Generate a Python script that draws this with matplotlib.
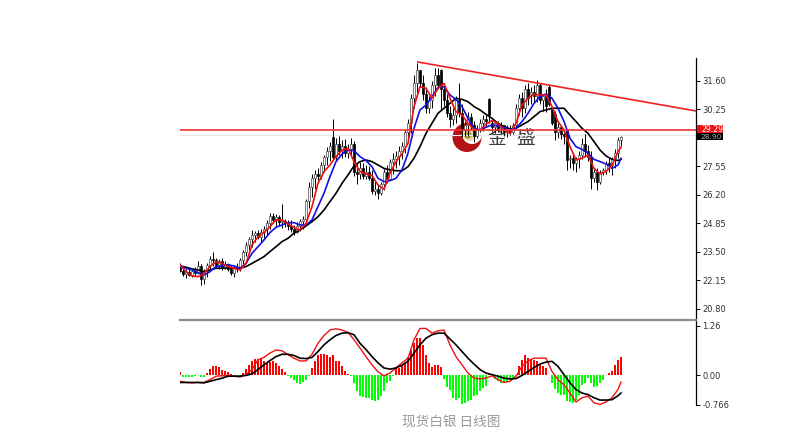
import matplotlib
matplotlib.use("Agg")
import matplotlib.pyplot as plt
from matplotlib.patches import Circle, Rectangle
import numpy as np

plt.rcParams['font.family'] = ['DejaVu Sans', 'Noto Sans CJK SC']

# bougies journalieres
opens = [22.85, 22.6, 22.45, 22.55, 22.4, 22.6, 22.5, 22.85, 22.2, 22.6, 22.9, 23.15,
         23.1, 22.9, 23.05, 22.8, 22.95, 22.7, 22.5, 22.75, 22.7, 23.1, 23.5, 23.85,
         24.1, 24.3, 24.4, 24.2, 24.45, 24.6, 24.85, 25.2, 25.0, 25.15, 24.9, 24.95,
         24.85, 24.75, 24.6, 24.45, 24.75, 24.95, 25.05, 25.9, 26.6, 27.0, 27.2, 27.1,
         27.6, 28.0, 28.3, 28.95, 28.0, 28.6, 28.3, 28.5, 28.2, 28.4, 28.6, 27.3,
         27.2, 27.5, 27.1, 27.3, 27.0, 26.4, 26.5, 26.3, 26.7, 27.3, 26.95, 27.75,
         27.9, 28.05, 28.3, 28.5, 29.2, 29.6, 30.8, 31.5, 32.1, 31.5, 31.0, 30.3,
         30.7, 31.4, 31.9, 32.1, 31.2, 30.7, 30.1, 29.8, 30.0, 30.7, 30.1, 29.3,
         29.5, 29.9, 29.5, 29.0, 29.3, 29.6, 29.8, 30.75, 29.6, 29.4, 29.6, 29.35,
         29.5, 29.2, 29.35, 29.2, 29.5, 30.3, 30.8, 30.3, 31.2, 31.0, 31.1, 30.9,
         31.4, 30.7, 30.9, 31.3, 30.3, 30.05, 29.2, 29.4, 29.1, 29.28, 27.9, 27.95,
         27.7, 27.9, 28.1, 28.6, 28.3, 28.0, 27.0, 27.3, 26.8, 27.3, 27.4, 27.7,
         27.6, 27.9, 28.2, 28.8]
highs = [22.96, 22.75, 22.7, 22.8, 22.7, 22.8, 23.09, 22.95, 22.7, 23.0, 23.3, 23.5,
         23.2, 23.15, 23.2, 23.05, 22.96, 22.9, 22.85, 22.96, 23.2, 23.6, 23.95, 24.23,
         24.54, 24.5, 24.54, 24.6, 24.75, 25.0, 25.33, 25.33, 25.3, 25.25, 25.78, 25.05,
         25.0, 25.02, 24.8, 24.9, 25.05, 25.2, 26.0, 26.83, 27.2, 27.4, 27.46, 27.75,
         28.1, 28.46, 28.7, 29.79, 28.9, 29.0, 28.8, 28.85, 28.6, 28.9, 28.75, 27.75,
         27.78, 27.7, 27.6, 27.55, 27.38, 26.9, 26.7, 26.8, 27.45, 27.6, 27.9, 28.18,
         28.3, 28.5, 28.73, 29.3, 29.8, 31.0, 31.9, 32.47, 32.12, 31.9, 31.3, 30.9,
         31.6, 32.2, 32.2, 32.15, 31.49, 31.0, 30.4, 30.3, 30.9, 31.49, 30.5, 29.7,
         30.15, 30.1, 29.7, 29.5, 29.8, 30.0, 30.0, 30.78, 29.75, 29.7, 29.7, 29.65,
         29.52, 29.5, 29.5, 29.6, 30.5, 31.0, 31.1, 31.41, 31.5, 31.3, 31.4, 31.65,
         31.5, 31.0, 31.2, 31.41, 30.39, 30.2, 29.6, 29.5, 29.28, 29.28, 28.1, 28.1,
         28.0, 28.3, 28.9, 29.1, 28.57, 28.3, 27.5, 27.5, 27.4, 27.5, 27.8, 28.0,
         28.0, 28.4, 28.95, 29.0]
lows = [22.55, 22.35, 22.25, 22.35, 22.3, 22.35, 22.45, 21.94, 21.98, 22.33, 22.65, 22.85,
        22.75, 22.7, 22.65, 22.7, 22.6, 22.4, 22.3, 22.57, 22.6, 22.95, 23.3, 23.6,
        23.75, 23.95, 24.1, 23.95, 24.15, 24.3, 24.6, 24.85, 24.75, 24.8, 24.62, 24.7,
        24.55, 24.45, 24.31, 24.4, 24.5, 24.6, 24.9, 25.6, 26.1, 26.5, 26.9, 26.95,
        27.3, 27.62, 27.8, 27.9, 27.86, 28.1, 27.95, 28.0, 27.95, 28.1, 27.1, 26.7,
        26.95, 26.95, 26.95, 26.9, 26.25, 26.2, 26.0, 26.2, 26.44, 26.75, 26.9, 27.2,
        27.5, 27.6, 27.9, 28.2, 28.9, 29.12, 30.3, 30.9, 31.3, 30.7, 30.07, 30.1,
        30.3, 30.9, 31.2, 30.23, 30.4, 29.9, 29.44, 29.5, 29.6, 29.9, 28.96, 29.0,
        29.0, 29.3, 28.73, 28.9, 29.2, 29.25, 29.4, 29.6, 29.2, 29.12, 29.2, 29.15,
        29.0, 28.96, 29.05, 29.1, 29.44, 30.0, 29.9, 30.1, 30.46, 30.5, 30.6, 30.6,
        30.5, 30.2, 30.15, 30.4, 29.5, 28.81, 28.9, 28.85, 28.6, 27.39, 27.5, 27.4,
        27.3, 27.5, 27.9, 28.0, 27.8, 26.5, 26.8, 26.44, 26.7, 27.15, 27.2, 27.3,
        27.15, 27.5, 27.95, 28.5]
closes = [22.6, 22.45, 22.55, 22.4, 22.6, 22.5, 22.85, 22.2, 22.6, 22.9, 23.15, 23.1,
          22.9, 23.05, 22.8, 22.95, 22.7, 22.5, 22.75, 22.7, 23.1, 23.5, 23.85, 24.1,
          24.3, 24.4, 24.2, 24.45, 24.6, 24.85, 25.2, 25.0, 25.15, 24.9, 24.95, 24.85,
          24.75, 24.6, 24.45, 24.75, 24.95, 25.05, 25.9, 26.6, 27.0, 27.2, 27.1, 27.6,
          28.0, 28.3, 28.5, 28.0, 28.6, 28.3, 28.5, 28.2, 28.4, 28.6, 27.3, 27.2,
          27.5, 27.1, 27.3, 27.0, 26.4, 26.5, 26.3, 26.7, 27.3, 26.95, 27.75, 27.9,
          28.05, 28.3, 28.5, 29.2, 29.6, 30.8, 31.5, 32.1, 31.5, 31.0, 30.3, 30.7,
          31.4, 31.9, 31.4, 31.2, 30.7, 30.1, 29.8, 30.0, 30.7, 30.1, 29.3, 29.5,
          29.9, 29.5, 29.0, 29.3, 29.6, 29.8, 29.7, 30.0, 29.4, 29.6, 29.35, 29.5,
          29.2, 29.35, 29.2, 29.5, 30.3, 30.8, 30.3, 31.2, 30.8, 31.1, 30.9, 31.4,
          30.7, 30.9, 30.4, 30.5, 29.6, 29.2, 29.4, 29.1, 29.0, 27.86, 27.95, 27.7,
          27.9, 28.1, 28.6, 28.3, 28.0, 27.0, 27.3, 26.8, 27.3, 27.4, 27.7, 27.6,
          27.9, 28.2, 28.8, 28.95]

# moyennes mobiles, un point toutes les 2 bougies
line_days = list(range(0, 148, 2)) + [147]
ma_red = [22.89, 22.57, 22.36, 22.33, 22.46, 22.81, 23.04, 22.96, 22.81, 22.73, 22.65, 22.96, 23.83,
          24.23, 24.42, 24.7, 25.02, 25.02, 24.83, 24.67, 24.54, 24.86, 25.65, 26.75, 27.31, 27.62,
          28.02, 28.33, 28.41, 27.78, 27.31, 27.2, 27.13, 26.67, 26.47, 27.23, 27.78, 28.14, 28.65,
          30.39, 31.33, 31.25, 30.78, 31.25, 31.49, 30.78, 30.15, 29.99, 29.6, 29.31, 29.28, 29.56,
          29.72, 29.6, 29.28, 29.12, 29.6, 30.46, 30.78, 30.97, 30.94, 30.94, 30.39, 29.68, 29.28,
          28.49, 27.86, 27.94, 28.1, 27.46, 27.2, 27.31, 27.62, 28.25, 28.46]
ma_blue = [22.81, 22.73, 22.65, 22.52, 22.41, 22.57, 22.81, 22.84, 22.89, 22.84, 22.73, 22.96, 23.44,
           23.75, 24.07, 24.42, 24.67, 24.78, 24.89, 24.89, 24.78, 24.78, 25.02, 25.65, 26.28, 27.07,
           27.78, 28.14, 28.33, 28.3, 28.02, 27.83, 27.54, 26.99, 26.83, 26.88, 26.99, 27.39, 28.18,
           29.36, 30.23, 30.46, 30.86, 31.3, 31.33, 30.94, 30.73, 30.39, 29.83, 29.36, 29.28, 29.41,
           29.52, 29.47, 29.41, 29.28, 29.36, 29.68, 30.07, 30.54, 30.86, 30.99, 30.78, 30.31, 29.68,
           28.89, 28.49, 28.36, 28.18, 27.89, 27.78, 27.67, 27.46, 27.62, 27.94]
ma_black = [22.84, 22.78, 22.7, 22.65, 22.57, 22.65, 22.73, 22.73, 22.73, 22.73, 22.73, 22.81, 22.96,
            23.12, 23.28, 23.52, 23.75, 23.99, 24.15, 24.39, 24.54, 24.73, 24.94, 25.17, 25.49, 25.89,
            26.28, 26.75, 27.15, 27.58, 27.78, 27.86, 27.78, 27.62, 27.46, 27.39, 27.35, 27.35, 27.54,
            27.94, 28.49, 29.12, 29.6, 30.07, 30.31, 30.54, 30.78, 30.73, 30.62, 30.39, 30.23, 30.02,
            29.83, 29.6, 29.44, 29.33, 29.36, 29.52, 29.68, 29.91, 30.15, 30.23, 30.31, 30.31, 30.31,
            29.99, 29.68, 29.36, 29.12, 28.73, 28.33, 28.05, 27.89, 27.83, 27.89]

# MACD
hist = [.08, -.04, -.04, -.05, -.05, -.02, 0, -.05, -.06, .05, .16, .24,
        .24, .2, .14, .09, .08, .02, -.03, -.05, -.03, .05, .16, .26,
        .35, .42, .42, .43, .35, .3, .32, .36, .3, .22, .16, .08,
        -.03, -.08, -.14, -.2, -.22, -.19, -.12, -.03, .19, .36, .5, .53,
        .53, .52, .45, .52, .36, .35, .22, .09, .03, -.03, -.2, -.42,
        -.53, -.57, -.58, -.58, -.65, -.67, -.63, -.54, -.42, -.2, -.16, -.03,
        .18, .19, .25, .28, .47, .64, .81, .94, .94, .77, .52, .3,
        .2, .25, .26, .2, -.1, -.3, -.38, -.58, -.63, -.58, -.73, -.72,
        -.67, -.63, -.54, -.5, -.41, -.33, -.27, .03, 0, -.1, -.15, -.2,
        -.18, -.15, -.12, -.08, -.03, .22, .39, .5, .43, .42, .39, .35,
        .26, .22, .18, 0, -.2, -.37, -.46, -.5, -.5, -.67, -.69, -.71,
        -.65, -.5, -.25, -.2, -.08, -.2, -.31, -.29, -.2, -.12, 0, .05,
        .09, .26, .39, .47]
macd_red = [-.16, -.19, -.2, -.19, -.19, -.12, -.03, -.02, -.01, -.03, -.05, .01, .14, .39, .45,
            .56, .64, .62, .52, .43, .36, .36, .53, .81, 1.01, 1.15, 1.18, 1.15, 1.09, .9,
            .69, .47, .26, .08, -.02, .05, .19, .31, .43, .9, 1.19, 1.19, 1.07, 1.13,
            1.15, .77, .47, .26, .05, -.08, -.1, -.08, -.02, -.12, -.19, -.16, -.03, .22, .36,
            .43, .43, .43, .09, -.12, -.25, -.46, -.69, -.58, -.54, -.71, -.75, -.69, -.58, -.37, -.18]
macd_black = [-.19, -.19, -.19, -.19, -.2, -.16, -.12, -.08, -.03, -.03, -.03, -.01, .03, .14, .26,
              .37, .47, .53, .53, .5, .43, .42, .45, .6, .77, .9, 1.01, 1.07, 1.08, 1.03,
              .81, .65, .47, .31, .18, .15, .18, .25, .35, .56, .77, .94, 1.03, 1.07,
              1.07, .92, .77, .6, .43, .28, .14, .05, .01, -.03, -.08, -.1, -.09, -.01, .09,
              .19, .28, .33, .35, .22, .01, -.2, -.37, -.46, -.5, -.58, -.64, -.64, -.63, -.53, -.46]

trend_x = [79.3, 172]
trend_y = [32.5, 30.18]
level = 29.28
price_ticks = [31.60, 30.25, 27.55, 26.20, 24.85, 23.50, 22.15, 20.80]
macd_ticks = [1.26, 0.00, -0.766]
macd_labels = ['1.26', '0.00', '-0.766']

W, H = 811, 437
fig = plt.figure(figsize=(W / 100, H / 100), dpi=100, facecolor='white')


def box(x0, y0, x1, y1):
    return [x0 / W, 1 - y1 / H, (x1 - x0) / W, (y1 - y0) / H]


# Filigrane derriere les bougies (en pixels)
back = fig.add_axes([0, 0, 1, 1], zorder=0)
back.set_xlim(0, W)
back.set_ylim(H, 0)
back.axis('off')
back.add_patch(Circle((467, 137.5), 14.5, color='#b01414', lw=0))
back.add_patch(Circle((472, 134), 10, color='white', lw=0))
back.add_patch(Circle((470, 134), 7, color='#e8dcae', lw=0))
back.add_patch(Circle((468, 135), 3.8, color='#b39a3a', lw=0))
back.text(497, 138.5, '金', fontsize=13.5, color='#3a3a3a', ha='center', va='center', family=['Noto Sans CJK SC'])
back.text(526, 138.5, '盛', fontsize=13.5, color='#3a3a3a', ha='center', va='center', family=['Noto Sans CJK SC'])

ax = fig.add_axes(box(180, 58, 696, 320), zorder=1)
sub = fig.add_axes(box(180, 321, 696, 405), zorder=1)

# Graphique des prix
days = np.arange(len(opens))
o = np.array(opens)
c = np.array(closes)
ax.vlines(days, lows, highs, color='black', lw=0.7, zorder=2)
up = c >= o
ax.bar(days[up], c[up] - o[up], bottom=o[up], width=0.6, color='white', edgecolor='#444444', lw=0.5, zorder=3)
ax.bar(days[~up], o[~up] - c[~up], bottom=c[~up], width=0.6, color='black', edgecolor='black', lw=0.5, zorder=3)
ax.plot(line_days, ma_black, color='black', lw=1.2, zorder=4)
ax.plot(line_days, ma_blue, color='#1010e0', lw=1.2, zorder=5)
ax.plot(line_days, ma_red, color='#ee1111', lw=1.2, zorder=6)
ax.plot(trend_x, trend_y, color='#ee2222', lw=1.2, zorder=6)
ax.axhline(level, color='#ee3333', lw=1.2, zorder=6)
ax.axhline(29.05, color='#e8e8ee', lw=0.8, zorder=1)
ax.set_xlim(0, 172)
ax.set_ylim(31.6 - 239 / 21.11, 31.6 + 23 / 21.11)
ax.set_xticks([])
ax.set_yticks(price_ticks)
ax.set_yticklabels(['%.2f' % t for t in price_ticks])

# MACD
colors = ['#ff0000' if v >= 0 else '#00ff00' for v in hist]
sub.bar(days, hist, width=0.8, color=colors, zorder=2)
sub.plot(line_days, macd_red, color='#ee1111', lw=1.0, zorder=3)
sub.plot(line_days, macd_black, color='black', lw=1.2, zorder=4)
sub.set_xlim(0, 172)
sub.set_ylim(-0.766, 1.38)
sub.set_xticks([])
sub.set_yticks(macd_ticks)
sub.set_yticklabels(macd_labels)

for a in (ax, sub):
    a.yaxis.tick_right()
    for s in ('left', 'top', 'bottom'):
        a.spines[s].set_visible(False)
    a.spines['right'].set_linewidth(0.9)
    a.tick_params(axis='y', length=3, width=0.7, pad=1.5, labelsize=6, labelcolor='#333333')
    a.patch.set_alpha(0)

# Habillage : separateur, etiquettes, titre (en pixels)
over = fig.add_axes([0, 0, 1, 1], zorder=10)
over.set_xlim(0, W)
over.set_ylim(H, 0)
over.axis('off')
over.plot([180, 696], [320, 320], color='#8c8c8c', lw=1.6)
over.add_patch(Rectangle((697, 133), 26, 7, color='black', lw=0))
over.text(700, 137, '28.90', fontsize=5.4, color='#aaaaaa', va='center')
over.add_patch(Rectangle((697, 125), 26, 8, color='#ee1111', lw=0))
over.text(701, 129, '29.29', fontsize=5.6, color='white', va='center')
over.text(451.5, 422, '现货白银 日线图', fontsize=9.8, color='#9a9a9a', ha='center', va='center',
          family=['Noto Sans CJK SC', 'DejaVu Sans'])

fig.savefig('out.png', dpi=100)
